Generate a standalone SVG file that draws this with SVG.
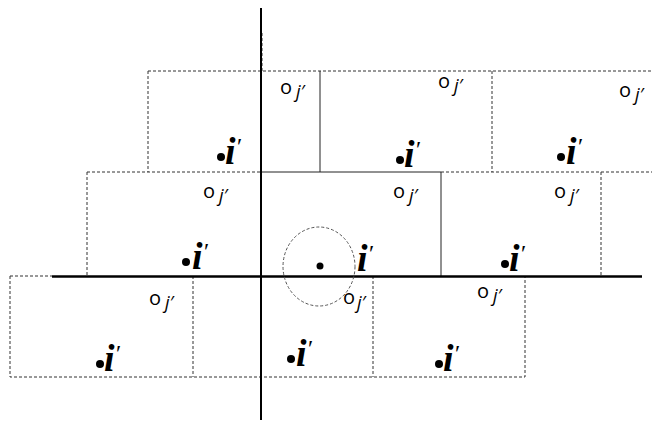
<svg xmlns="http://www.w3.org/2000/svg" width="652" height="422" viewBox="0 0 652 422">
<style>
.d{stroke:#333;stroke-width:1;stroke-dasharray:3 2;fill:none}
.s{stroke:#222;stroke-width:1;fill:none}
.ax{stroke:#000;fill:none}
.i{font-family:"Liberation Serif",serif;font-style:italic;font-weight:bold;font-size:38px;fill:#000}
.p{font-weight:normal;font-size:24px}
.j{font-family:"Open Sans","DejaVu Sans",sans-serif;font-size:20px;fill:#000}
.jj{font-style:italic;font-size:18px}
</style>
<rect width="652" height="422" fill="#fff"/>
<g id="connectors">
<path class="d" d="M148 71H652 M148 71V172 M492 71V172 M262 33V71"/>
<path class="s" d="M320 71V172"/>
<path class="d" d="M87 172H260 M441 172H652 M87 172V276 M601 172V276"/>
<path class="s" d="M260 172H441 M441 172V276"/>
<path class="d" d="M10 276H52 M10 276V377 H525 V276 M193 276V377 M373 276V377"/>
<path class="ax" stroke-width="2" d="M261 8V420"/>
<path class="ax" stroke-width="2.5" d="M52 276.5H642"/>
<ellipse cx="319" cy="266.5" rx="36" ry="39.5" fill="none" stroke="#555" stroke-width="1" stroke-dasharray="3 2"/>
</g>
<g id="n1"><circle cx="221" cy="157" r="4"/><text class="i" x="225" y="164">i<tspan class="p" dy="-10">′</tspan></text><text class="j" x="280" y="94">o<tspan class="jj" dx="4" dy="4">j′</tspan></text></g>
<g id="n2"><circle cx="400" cy="160" r="4"/><text class="i" x="404" y="167">i<tspan class="p" dy="-10">′</tspan></text><text class="j" x="438" y="88">o<tspan class="jj" dx="4" dy="4">j′</tspan></text></g>
<g id="n3"><circle cx="561" cy="157" r="4"/><text class="i" x="566" y="164">i<tspan class="p" dy="-10">′</tspan></text><text class="j" x="619" y="97">o<tspan class="jj" dx="4" dy="4">j′</tspan></text></g>
<g id="n4"><circle cx="186" cy="262" r="4"/><text class="i" x="192" y="269">i<tspan class="p" dy="-10">′</tspan></text><text class="j" x="203" y="198">o<tspan class="jj" dx="4" dy="4">j′</tspan></text></g>
<g id="n5"><circle cx="320" cy="266" r="3.5"/><text class="i" x="357" y="271">i<tspan class="p" dy="-10">′</tspan></text><text class="j" x="393" y="198">o<tspan class="jj" dx="4" dy="4">j′</tspan></text></g>
<g id="n6"><circle cx="505" cy="264" r="4"/><text class="i" x="509" y="271">i<tspan class="p" dy="-10">′</tspan></text><text class="j" x="554" y="198">o<tspan class="jj" dx="4" dy="4">j′</tspan></text></g>
<g id="n7"><circle cx="100" cy="364" r="4"/><text class="i" x="104" y="371">i<tspan class="p" dy="-10">′</tspan></text><text class="j" x="149" y="305">o<tspan class="jj" dx="4" dy="4">j′</tspan></text></g>
<g id="n8"><circle cx="291" cy="359" r="4"/><text class="i" x="296" y="366">i<tspan class="p" dy="-10">′</tspan></text><text class="j" x="343" y="304" font-size="24">o<tspan class="jj" font-size="21" dx="2" dy="5">j′</tspan></text></g>
<g id="n9"><circle cx="439" cy="364" r="4"/><text class="i" x="443" y="371">i<tspan class="p" dy="-10">′</tspan></text><text class="j" x="477" y="298">o<tspan class="jj" dx="4" dy="4">j′</tspan></text></g>
</svg>
